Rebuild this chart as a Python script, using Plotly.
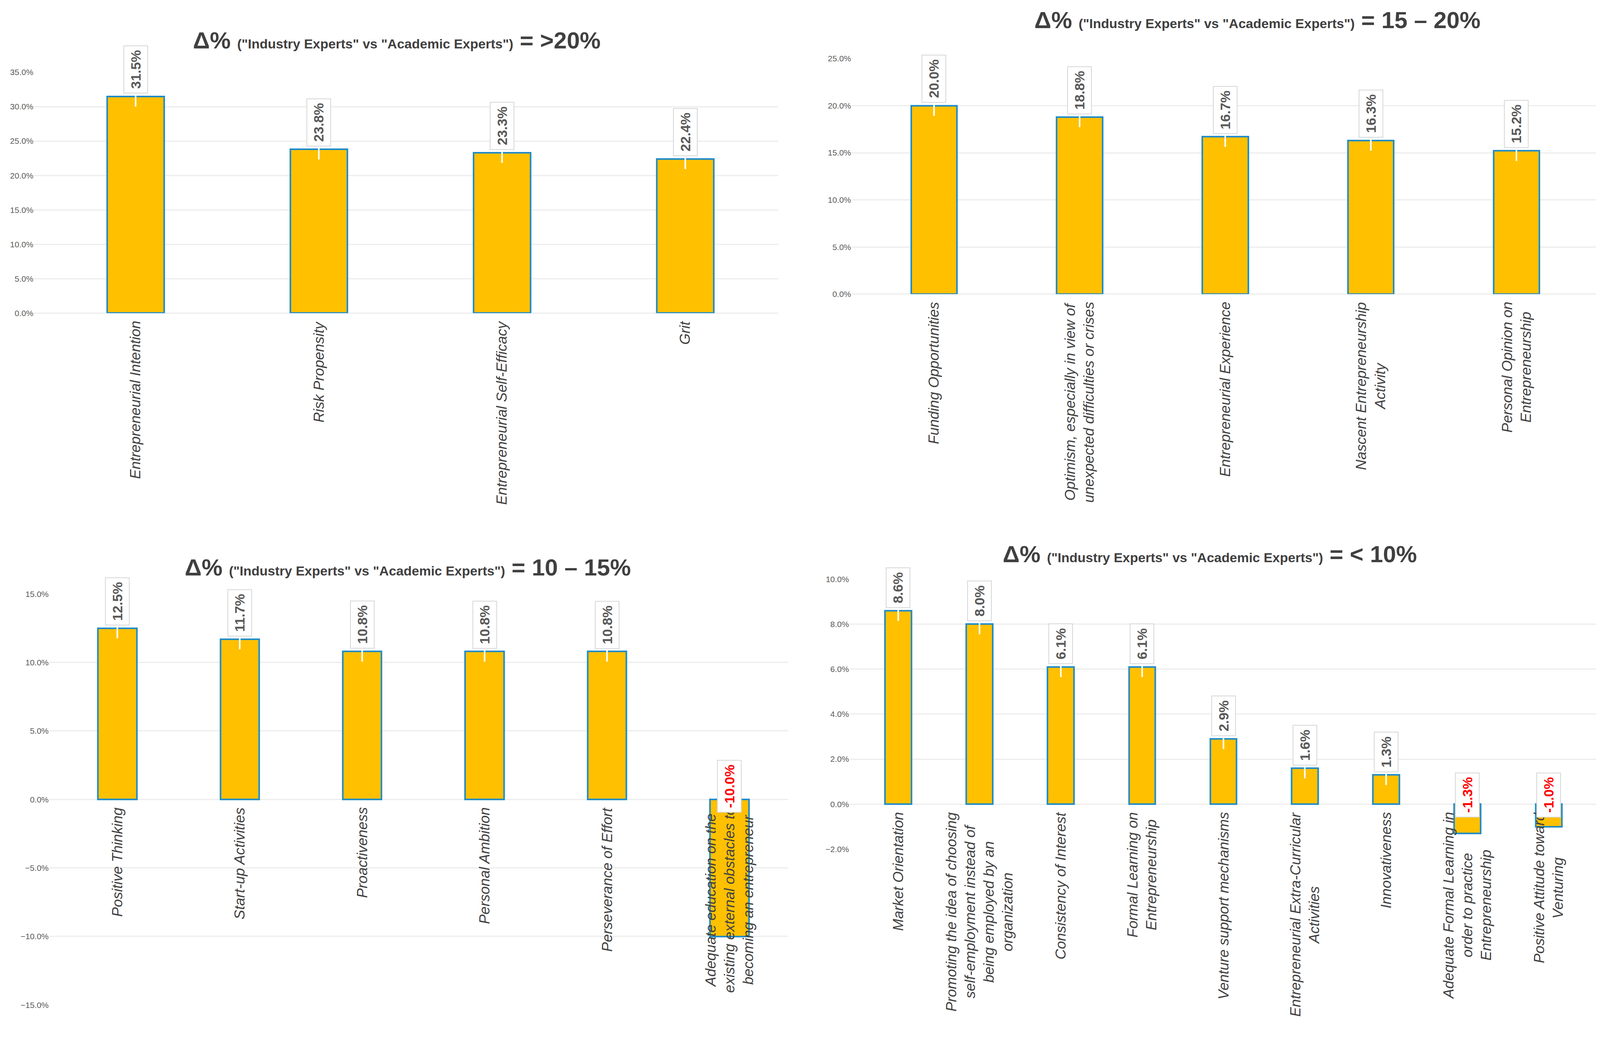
import plotly.graph_objects as go

# ---- data (percent difference, Industry vs Academic experts) ----
cats_gt20 = ["Entrepreneurial Intention", "Risk Propensity",
             "Entrepreneurial Self-Efficacy", "Grit"]
vals_gt20 = [31.5, 23.8, 23.3, 22.4]

cats_15_20 = ["Funding Opportunities",
              "Optimism, especially in view of<br>unexpected difficulties or crises",
              "Entrepreneurial Experience",
              "Nascent Entrepreneurship<br>Activity",
              "Personal Opinion on<br>Entrepreneurship"]
vals_15_20 = [20.0, 18.8, 16.7, 16.3, 15.2]

cats_10_15 = ["Positive Thinking", "Start-up Activities", "Proactiveness",
              "Personal Ambition", "Perseverance of Effort",
              "Adequate education on the<br>existing external obstacles to<br>becoming an entrepreneur"]
vals_10_15 = [12.5, 11.7, 10.8, 10.8, 10.8, -10.0]

cats_lt10 = ["Market Orientation",
             "Promoting the idea of choosing<br>self-employment instead of<br>being employed by an<br>organization",
             "Consistency of Interest",
             "Formal Learning on<br>Entrepreneurship",
             "Venture support mechanisms",
             "Entrepreneurial Extra-Curricular<br>Activities",
             "Innovativeness",
             "Adequate Formal Learning in<br>order to practice<br>Entrepreneurship",
             "Positive Attitude toward<br>Venturing"]
vals_lt10 = [8.6, 8.0, 6.1, 6.1, 2.9, 1.6, 1.3, -1.3, -1.0]

titles = ["&gt;20%", "15 – 20%", "10 – 15%", "&lt; 10%"]
y_ranges = [[0, 35], [0, 25], [-15, 15], [-2, 10]]
y_dtick = [5, 5, 5, 2]

panels = [
    dict(cats=cats_gt20, vals=vals_gt20, xd=[0.0192, 0.4862], yd=[0.7021, 0.9371],
         xr=[-0.556, 3.506], w=0.31, tpos=(0.247, 0.968)),
    dict(cats=cats_15_20, vals=vals_15_20, xd=[0.5323, 0.9994], yd=[0.7206, 0.9505],
         xr=[-0.567, 4.546], w=0.315, tpos=(0.787, 0.988)),
    dict(cats=cats_10_15, vals=vals_10_15, xd=[0.0288, 0.4926], yd=[0.0270, 0.4280],
         xr=[-0.558, 5.48], w=0.317, tpos=(0.254, 0.454)),
    dict(cats=cats_lt10, vals=vals_lt10, xd=[0.5310, 0.9994], yd=[0.1790, 0.4425],
         xr=[-0.60, 8.58], w=0.325, tpos=(0.757, 0.467)),
]

BAR_FILL = "#FFC000"
BAR_EDGE = "#1C8AC8"
GRID = "#EDEDED"
TXT = "#404040"
NARROW = "Liberation Sans Narrow, Liberation Sans, Arial"
SANS = "Liberation Sans, Arial"

fig = go.Figure()
annotations = []
layout_axes = {}

for i, p in enumerate(panels):
    n = "" if i == 0 else str(i + 1)
    xa, ya = "x" + n, "y" + n

    fig.add_trace(go.Bar(
        x=p["cats"], y=p["vals"], width=p["w"],
        marker=dict(color=BAR_FILL, line=dict(color=BAR_EDGE, width=4)),
        xaxis=xa, yaxis=ya, hoverinfo="skip"
    ))

    layout_axes["xaxis" + n] = dict(
        domain=p["xd"], anchor=ya, range=p["xr"], type="category",
        showticklabels=False, showgrid=False, zeroline=False, showline=False,
        ticks="", fixedrange=True
    )
    layout_axes["yaxis" + n] = dict(
        domain=p["yd"], anchor=xa, range=y_ranges[i], dtick=y_dtick[i],
        tickformat=".1f", ticksuffix="%", showgrid=True, gridcolor=GRID,
        gridwidth=3, zeroline=True, zerolinecolor=GRID, zerolinewidth=3,
        showline=False, ticks="", fixedrange=True,
        tickfont=dict(family=NARROW, size=21, color="#595959")
    )

    # category labels, rotated and centred under each bar
    for c in p["cats"]:
        annotations.append(dict(
            x=c, y=0, xref=xa, yref=ya, text=c, showarrow=False,
            textangle=-90, xanchor="center", yanchor="top", align="center",
            yshift=-18,
            font=dict(family=SANS, size=37, color=TXT, style="italic")
        ))

    # value call-outs
    for c, v in zip(p["cats"], p["vals"]):
        lbl = f"{v:.1f}%"
        if v >= 0:
            # white pointer running from the box into the bar
            annotations.append(dict(
                x=c, y=v, xref=xa, yref=ya, text=" ",
                showarrow=True, arrowhead=0, arrowcolor="white", arrowwidth=4,
                ax=0, ay=-34, yshift=-26, font=dict(size=1)
            ))
            annotations.append(dict(
                x=c, y=v, xref=xa, yref=ya, text=lbl, showarrow=False,
                textangle=-90, xanchor="center", yanchor="bottom", yshift=7,
                bgcolor="white", bordercolor="#D6D6D6", borderwidth=2, borderpad=10,
                font=dict(family=SANS, size=35, color="#595959", weight="bold")
            ))
        else:
            annotations.append(dict(
                x=c, y=0, xref=xa, yref=ya, text=lbl, showarrow=False,
                textangle=-90, xanchor="center", yanchor="bottom", yshift=-34,
                bgcolor="white", bordercolor="#D6D6D6", borderwidth=2, borderpad=10,
                font=dict(family=SANS, size=35, color="#FF0000", weight="bold")
            ))

    # panel title
    annotations.append(dict(
        x=p["tpos"][0], y=p["tpos"][1], xref="paper", yref="paper",
        xanchor="center", yanchor="middle", showarrow=False,
        text=("<b>Δ%</b> <span style='font-size:34px'><b>(\"Industry Experts\" vs "
              "\"Academic Experts\")</b></span> <b>= " + titles[i] + "</b>"),
        font=dict(family=NARROW, size=60, color=TXT)
    ))

fig.update_layout(
    autosize=True,
    margin=dict(l=0, r=0, t=0, b=0),
    paper_bgcolor="white", plot_bgcolor="white",
    showlegend=False, bargap=0.0,
    annotations=annotations,
    **layout_axes
)

fig.write_html("out.html")
